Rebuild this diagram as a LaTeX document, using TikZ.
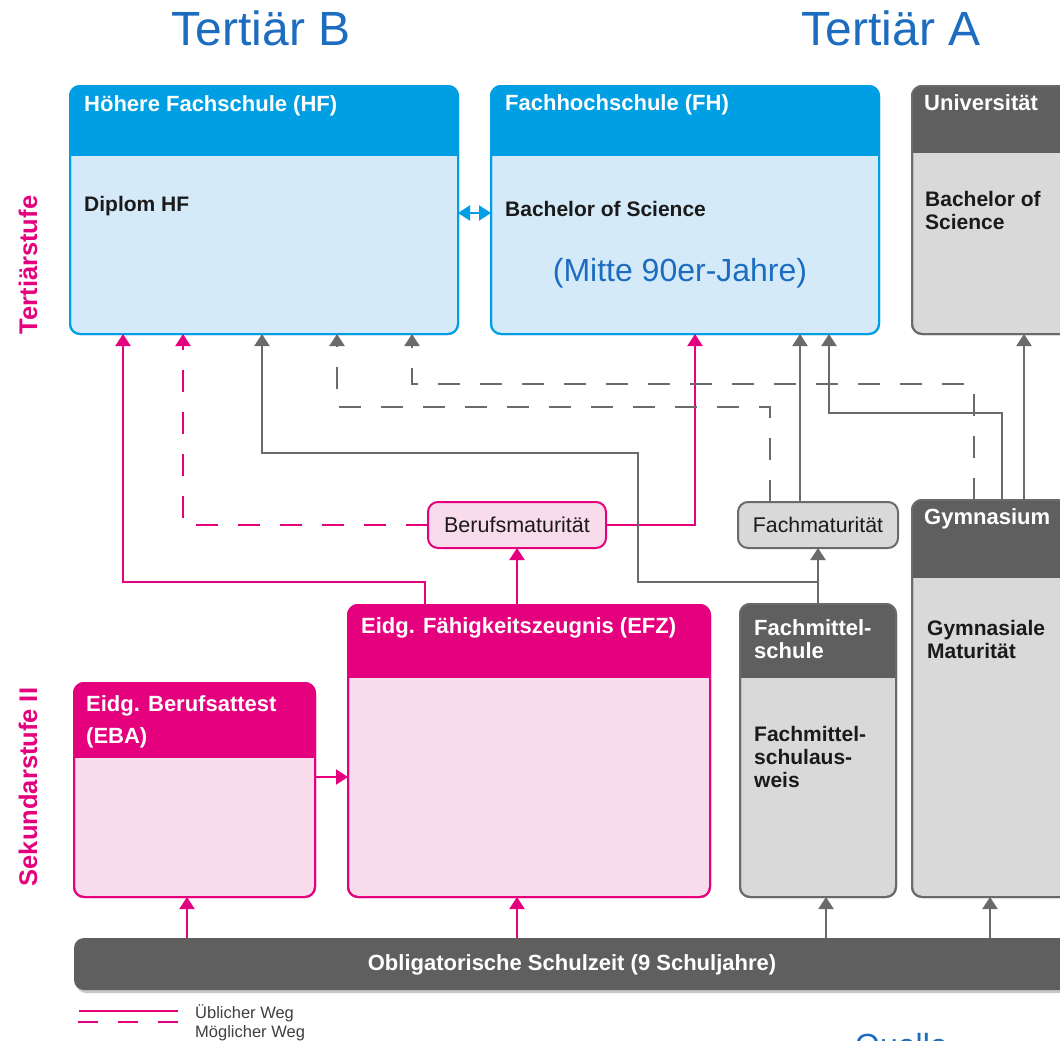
\documentclass[tikz,border=0pt]{standalone}
\usepackage{fontspec}
\setmainfont{Liberation Sans}
\usetikzlibrary{arrows.meta,calc}
\definecolor{hfblue}{HTML}{009FE3}
\definecolor{hfbody}{HTML}{D5EAF9}
\definecolor{pinkc}{HTML}{E5007D}
\definecolor{pinkbody}{HTML}{F9DCEB}
\definecolor{dgray}{HTML}{5F5F5F}
\definecolor{lgray}{HTML}{D9D9D9}
\definecolor{bgray}{HTML}{6A6A6A}
\definecolor{tblue}{HTML}{1C6CBF}
\definecolor{txt}{HTML}{1A1A1A}
\newcommand\mkbox[9]{%
  \node[draw=#9, fill=#8, line width=2pt, rounded corners=10pt, minimum width=#4, minimum height=#5, outer sep=0pt, inner sep=0pt] (#1) at (#2,#3) {};
  \begin{scope}
    \clip[rounded corners=10pt] (#1.north west) rectangle (#1.south east);
    \fill[#7] (#1.north west) rectangle ([yshift=-#6]#1.north east);
  \end{scope}
  \draw[#9, line width=2pt, rounded corners=10pt] (#1.north west) rectangle (#1.south east);
}
\begin{document}
\begin{tikzpicture}[x=1pt,y=-1pt,
  hdr/.style={font=\fontsize{22}{23}\selectfont\bfseries, text=white, inner sep=0pt, align=left},
  bd/.style={font=\fontsize{21}{23}\selectfont\bfseries, text=txt, inner sep=0pt, align=left},
  pk/.style={draw=pinkc, line width=2pt},
  gy/.style={draw=bgray, line width=2.2pt},
  tip/.style={-{Triangle[width=15pt,length=12pt]}},
  dsh/.style={dash pattern=on 22pt off 20pt},
  side/.style={rotate=90, font=\fontsize{25.5}{28}\selectfont\bfseries, text=pinkc, inner sep=0pt}]
\useasboundingbox (0,0) rectangle (1060,1041);
\clip (0,0) rectangle (1060,1041);
\fill[white] (0,0) rectangle (1060,1041);

% titles
\node[font=\fontsize{48}{52}\selectfont, text=tblue, inner sep=0pt] (tb) at (261,28) {Tertiär B};
\node[font=\fontsize{48}{52}\selectfont, text=tblue, inner sep=0pt] (ta) at (891,28) {Tertiär A};

% side labels
\node[side] (ts) at (28,265) {Tertiärstufe};
\node[side] (ss) at (28,787) {Sekundarstufe II};

% tertiary boxes
\mkbox{hf}{264}{210}{388}{248}{70pt}{hfblue}{hfbody}{hfblue}
\mkbox{fh}{685}{210}{388}{248}{70pt}{hfblue}{hfbody}{hfblue}
\mkbox{uni}{996}{210}{168}{248}{67pt}{dgray}{lgray}{bgray}

\node[hdr, anchor=west] (thf) at (84,106) {Höhere Fachschule (HF)};
\node[bd, anchor=west] (dhf) at (84,206) {Diplom HF};
\node[hdr, anchor=west] (tfh) at (505,105) {Fachhochschule (FH)};
\node[bd, anchor=west] (bfh) at (505,209) {Bachelor of Science};
\node[font=\fontsize{32}{36}\selectfont, text=tblue, inner sep=0pt] (mj) at (680,273) {(Mitte 90er-Jahre)};
\node[hdr, anchor=west] (tuni) at (924,103) {Universität};
\node[bd, anchor=west] (buni) at (925,210) {Bachelor of\\Science};

% middle boxes
\node[draw=pinkc, fill=pinkbody, line width=2pt, rounded corners=10pt, minimum width=178, minimum height=46, outer sep=0pt, font=\fontsize{21.5}{23}\selectfont, text=txt] (bm) at (517,525) {Berufsmaturität};
\node[draw=bgray, fill=lgray, line width=2pt, rounded corners=10pt, minimum width=160, minimum height=46, outer sep=0pt, font=\fontsize{21.3}{23}\selectfont, text=txt] (fm) at (818,525) {Fachmaturität};

% secondary boxes
\mkbox{gym}{996}{698.5}{168}{397}{78pt}{dgray}{lgray}{bgray}
\mkbox{fms}{818}{750.5}{156}{293}{74pt}{dgray}{lgray}{bgray}
\mkbox{efz}{529}{751}{362}{292}{73pt}{pinkc}{pinkbody}{pinkc}
\mkbox{eba}{194.5}{790}{241}{214}{75pt}{pinkc}{pinkbody}{pinkc}

\node[hdr, anchor=west] (tgym) at (924,519) {Gymnasium};
\node[bd, anchor=west] (bgym) at (927,639) {Gymnasiale\\Maturität};
\node[hdr, anchor=west] (tfms) at (754,639) {Fachmittel-\\schule};
\node[bd, anchor=west] (bfms) at (754,757) {Fachmittel-\\schulaus-\\weis};
\node[hdr, anchor=west] (tefz) at (361,628) {Eidg. Fähigkeitszeugnis (EFZ)};
\node[hdr, anchor=west] (teba) at (86,722) {Eidg. Berufsattest\\[9pt](EBA)};

% bottom bar
\fill[black!22, rounded corners=10pt] (76,941) rectangle (1090,993);
\node[fill=dgray, rounded corners=10pt, minimum width=1006, minimum height=52, outer sep=0pt, inner sep=0pt] (bar) at (577,964) {};
\node[hdr] (tbar) at (572,965) {Obligatorische Schulzeit (9 Schuljahre)};

% connectors: blue
\draw[draw=hfblue, line width=2pt, {Triangle[width=15pt,length=12pt]}-{Triangle[width=15pt,length=12pt]}] ([yshift=-3pt]hf.east) -- ([yshift=-3pt]fh.west);

% pink
\draw[pk,tip] ([xshift=77pt]efz.north west) -- ++(0,-23) -| ([xshift=53pt]hf.south west);
\draw[pk,tip] ([xshift=169pt]efz.north west) -- (bm.south);
\draw[pk,tip] (bm.east) -| ([xshift=204pt]fh.south west);
\draw[pk,tip,dsh] (bm.west) -| ([xshift=113pt]hf.south west);
\draw[pk,tip] ([yshift=13pt]eba.east) -- ([yshift=-26pt]efz.west);
\draw[pk,tip] ([xshift=113pt]bar.north west) -- ([xshift=113pt]eba.south west);
\draw[pk,tip] ([xshift=443pt]bar.north west) -- ([xshift=169pt]efz.south west);

% gray
\draw[gy,tip] (fms.north) -- (fm.south);
\draw[gy,tip] (fms.north) -- ++(0,-22) -- ++(-180,0) -- ++(0,-129) -| ([xshift=192pt]hf.south west);
\draw[gy,tip] ([xshift=-18pt]fm.north) -- ([xshift=309pt]fh.south west);
\draw[gy,tip,dsh] ([xshift=-48pt]fm.north) -- ++(0,-95) -| ([xshift=267pt]hf.south west);
\draw[gy,tip,dsh] ([xshift=62pt]gym.north west) -- ++(0,-116) -| ([xshift=342pt]hf.south west);
\draw[gy,tip] ([xshift=90pt]gym.north west) -- ++(0,-87) -| ([xshift=338pt]fh.south west);
\draw[gy,tip] ([xshift=112pt]gym.north west) -- ([xshift=112pt]uni.south west);
\draw[gy,tip] ([xshift=752pt]bar.north west) -- ([xshift=86pt]fms.south west);
\draw[gy,tip] ([xshift=916pt]bar.north west) -- ([xshift=78pt]gym.south west);

% legend
\coordinate (l1a) at (79,1011);
\coordinate (l1b) at (178,1011);
\coordinate (l2a) at (78,1022);
\coordinate (l2b) at (178,1022);
\draw[pk] (l1a) -- (l1b);
\draw[pk, dash pattern=on 20pt off 20pt] (l2a) -- (l2b);
\node[font=\fontsize{16.5}{18}\selectfont, text=black!75, anchor=west, inner sep=0pt] (lg1) at (195,1013) {Üblicher Weg};
\node[font=\fontsize{16.5}{18}\selectfont, text=black!75, anchor=west, inner sep=0pt] (lg2) at (195,1033) {Möglicher Weg};

% source (cut off at the lower edge, as in the reference)
\node[font=\fontsize{32}{36}\selectfont, text=tblue, anchor=base west, inner sep=0pt] (src) at (855,1056) {Quelle};
\end{tikzpicture}
\end{document}
